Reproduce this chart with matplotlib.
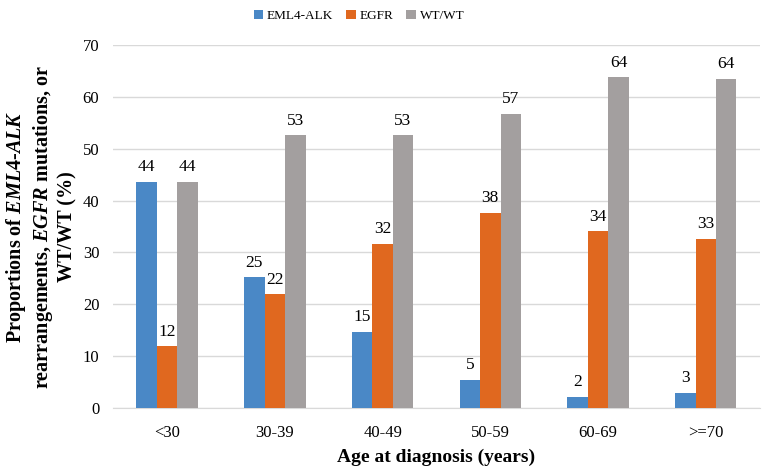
import numpy as np
import matplotlib
matplotlib.use("Agg")
import matplotlib.pyplot as plt

plt.rcParams['font.family'] = ['Liberation Serif', 'DejaVu Serif']
plt.rcParams['mathtext.fontset'] = 'custom'
plt.rcParams['mathtext.rm'] = 'Liberation Serif:bold'
plt.rcParams['mathtext.it'] = 'Liberation Serif:bold:italic'
plt.rcParams['mathtext.bf'] = 'Liberation Serif:bold'

categories = ['<30', '30-39', '40-49', '50-59', '60-69', '>=70']
series_names = ['EML4-ALK', 'EGFR', 'WT/WT']
eml4_alk = [43.6, 25.2, 14.7, 5.4, 2.2, 2.9]
egfr = [11.9, 21.9, 31.6, 37.6, 34.1, 32.6]
wt_wt = [43.6, 52.6, 52.6, 56.8, 63.8, 63.5]
colors = ['#4A88C6', '#E0681F', '#A39F9F']

fig = plt.figure(figsize=(7.65, 4.76), dpi=100)
ax = fig.add_axes([0.148, 0.143, 0.845, 0.762])

x = np.arange(len(categories))
w = 0.19
for i, (vals, name) in enumerate(zip([eml4_alk, egfr, wt_wt], series_names)):
    pos = x + (i - 1) * w
    ax.bar(pos, vals, width=w, color=colors[i], label=name, zorder=3)
    for xp, v in zip(pos, vals):
        ax.text(xp, v + 1.3, f'{v:.0f}', ha='center', va='bottom', fontsize=12.5)

ax.set_xlim(-0.5, len(categories) - 0.5)
ax.set_ylim(0, 70)
ax.set_yticks(range(0, 71, 10))
ax.set_xticks(x)
ax.set_xticklabels(categories)
ax.tick_params(axis='both', length=0, labelsize=12)
ax.tick_params(axis='x', pad=12)
ax.tick_params(axis='y', pad=10)
ax.grid(axis='y', color='#D9D9D9', linewidth=1, zorder=0)
for s in ['top', 'right', 'left']:
    ax.spines[s].set_visible(False)
ax.spines['bottom'].set_color('#D9D9D9')

ax.set_xlabel('Age at diagnosis (years)', fontsize=14, fontweight='bold', labelpad=6)
ax.set_ylabel('Proportions of $\\mathit{EML4}$-$\\mathit{ALK}$\nrearrangements, $\\mathit{EGFR}$ mutations, or\nWT/WT (%)',
              fontsize=14.5, fontweight='bold', linespacing=1.15, labelpad=4)

ax.legend(loc='upper center', bbox_to_anchor=(0.38, 1.13), ncol=3, frameon=False,
          fontsize=9.5, handlelength=0.7, handleheight=0.7, handletextpad=0.3,
          columnspacing=1.0)

fig.savefig('out.png', dpi=100)
